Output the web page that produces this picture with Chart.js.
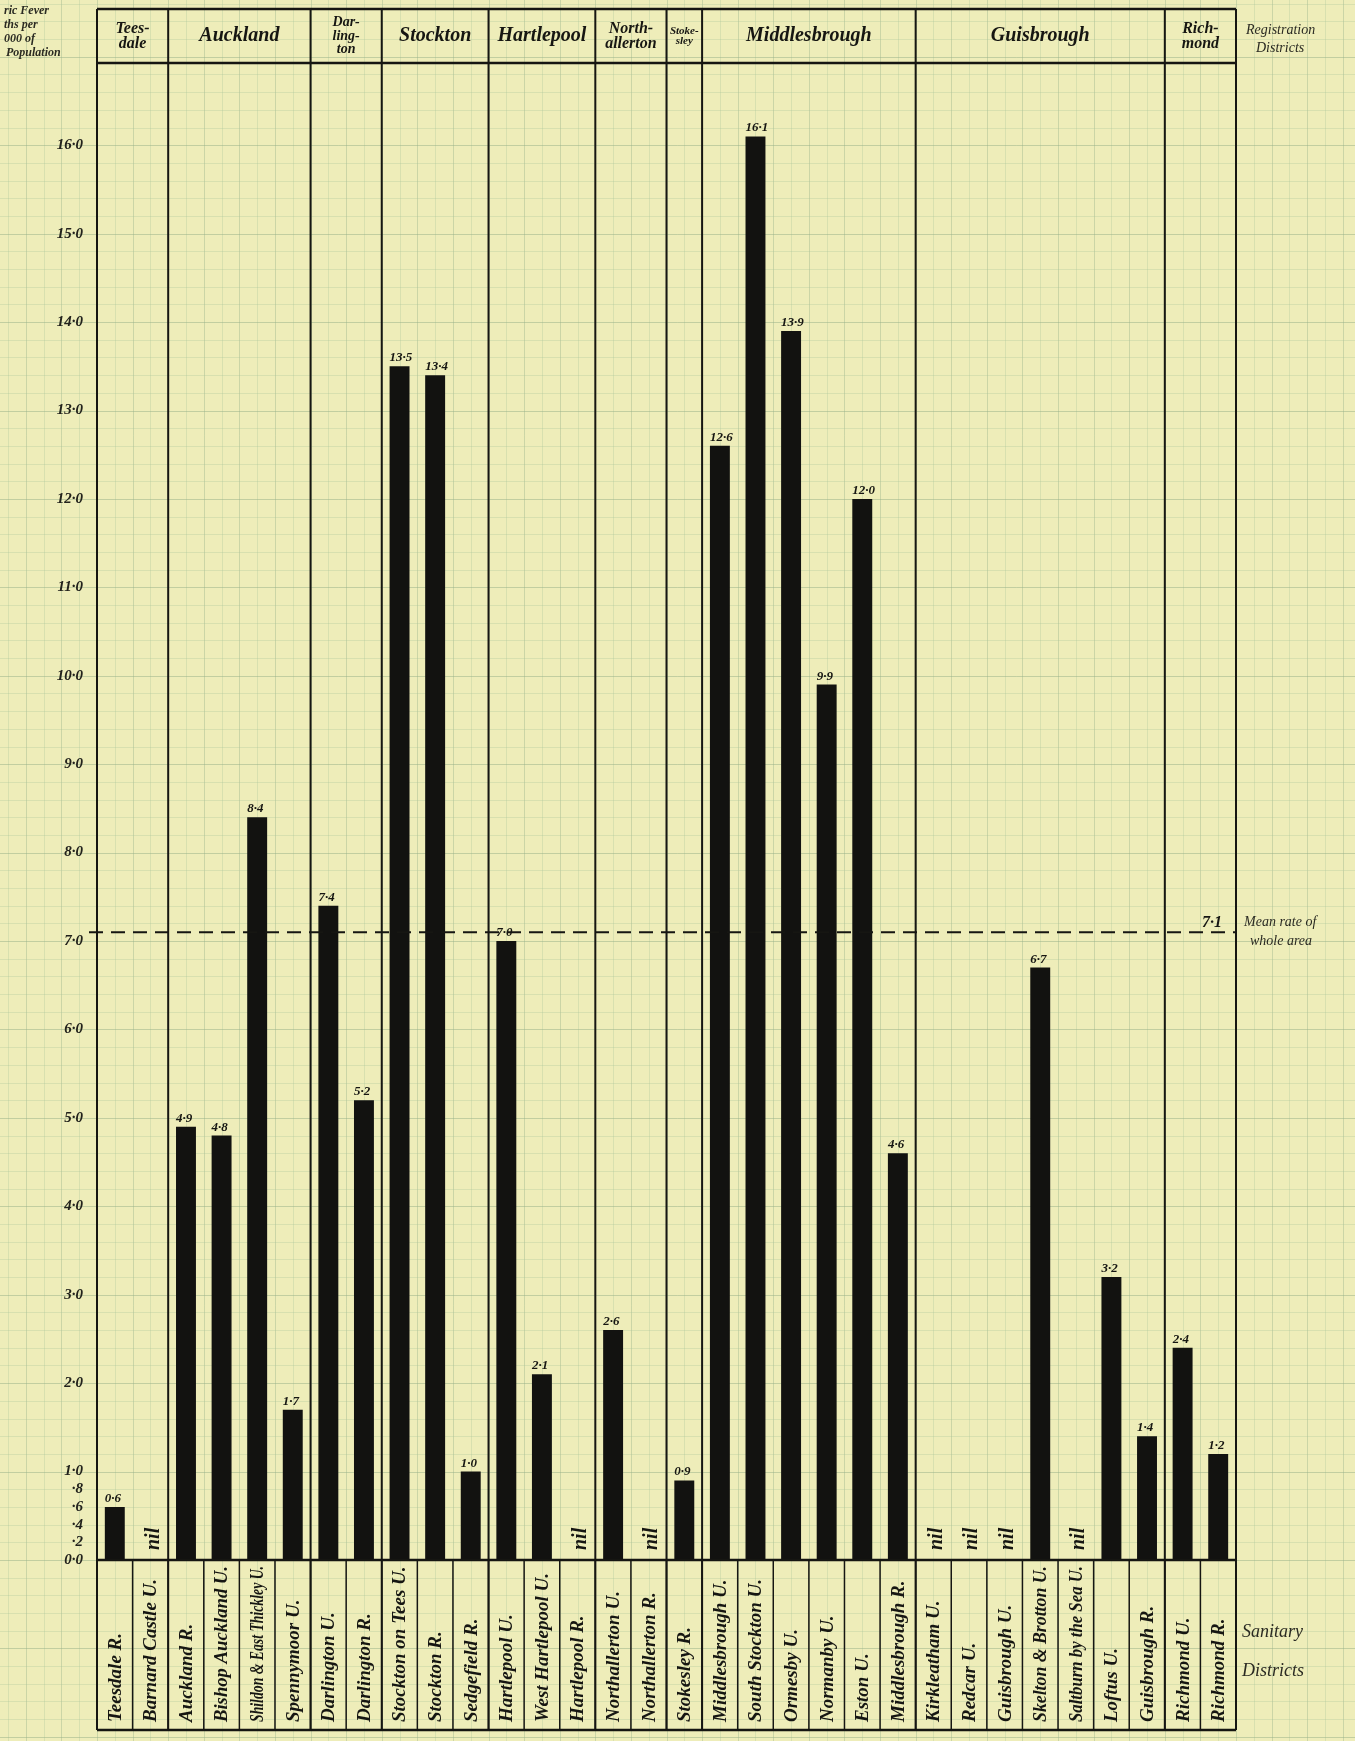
<!DOCTYPE html>
<html>
<head>
<meta charset="utf-8">
<title>Enteric fever deaths per 1000 of population</title>
<script src="https://cdn.jsdelivr.net/npm/chart.js@4.4.1/dist/chart.umd.min.js"></script>
<style>
  html, body { margin: 0; padding: 0; background: #eeedb9; }
  canvas { display: block; }
</style>
</head>
<body>
<canvas id="myChart" width="1355" height="1741"></canvas>
<script>
// sanitary districts, left to right
const districts = [
    'Teesdale R.', 'Barnard Castle U.',
    'Auckland R.', 'Bishop Auckland U.', 'Shildon & East Thickley U.', 'Spennymoor U.',
    'Darlington U.', 'Darlington R.',
    'Stockton on Tees U.', 'Stockton R.', 'Sedgefield R.',
    'Hartlepool U.', 'West Hartlepool U.', 'Hartlepool R.',
    'Northallerton U.', 'Northallerton R.',
    'Stokesley R.',
    'Middlesbrough U.', 'South Stockton U.', 'Ormesby U.', 'Normanby U.', 'Eston U.', 'Middlesbrough R.',
    'Kirkleatham U.', 'Redcar U.', 'Guisbrough U.', 'Skelton & Brotton U.', 'Saltburn by the Sea U.', 'Loftus U.', 'Guisbrough R.',
    'Richmond U.', 'Richmond R.'
];

// deaths per 1000 of population (0 = nil)
const rates = [
    0.6, 0,
    4.9, 4.8, 8.4, 1.7,
    7.4, 5.2,
    13.5, 13.4, 1.0,
    7.0, 2.1, 0,
    2.6, 0,
    0.9,
    12.6, 16.1, 13.9, 9.9, 12.0, 4.6,
    0, 0, 0, 6.7, 0, 3.2, 1.4,
    2.4, 1.2
];

// registration districts and how many sanitary districts each holds
const regNames = [
    ['Tees-', 'dale'], ['Auckland'], ['Dar-', 'ling-', 'ton'], ['Stockton'], ['Hartlepool'],
    ['North-', 'allerton'], ['Stoke-', 'sley'], ['Middlesbrough'], ['Guisbrough'], ['Rich-', 'mond']
];
const regCounts = [2, 4, 2, 3, 3, 2, 1, 6, 7, 2];

const meanRate = 7.1;

const SERIF = '"Liberation Serif", "DejaVu Serif", serif';
const INK = '#161612';

function fmt(v) {
    return v.toFixed(1).replace('.', '\u00b7');
}

function yTick(v) {
    const r = Math.round(v * 10) / 10;
    if (Number.isInteger(r)) return r + '\u00b70';
    if (r < 1 && Math.abs(r * 10 % 2) < 1e-6) return '\u00b7' + Math.round(r * 10);
    return '';
}

// graph paper behind everything
const paper = {
    id: 'paper',
    beforeDraw(chart) {
        const { ctx, width, height, scales: { x, y } } = chart;
        ctx.save();
        ctx.fillStyle = '#eeedb9';
        ctx.fillRect(0, 0, width, height);
        const sx = (x.right - x.left) / (districts.length * 2);
        const sy = y.getPixelForValue(0) - y.getPixelForValue(0.2);
        const y0 = y.getPixelForValue(0);
        ctx.lineWidth = 1;
        for (let i = -Math.ceil(x.left / sx); x.left + i * sx < width; i++) {
            const px = Math.round(x.left + i * sx) + 0.5;
            ctx.strokeStyle = (i % 2 === 0) ? 'rgba(160,185,145,0.45)' : 'rgba(170,195,155,0.32)';
            ctx.beginPath(); ctx.moveTo(px, 0); ctx.lineTo(px, height); ctx.stroke();
        }
        for (let j = -Math.ceil((height - y0) / sy); y0 - j * sy > 0; j++) {
            const py = Math.round(y0 - j * sy) + 0.5;
            ctx.strokeStyle = (j % 5 === 0) ? 'rgba(150,175,135,0.5)' : 'rgba(170,195,155,0.32)';
            ctx.beginPath(); ctx.moveTo(0, py); ctx.lineTo(width, py); ctx.stroke();
        }
        ctx.restore();
    }
};

// ruled table: header row, group lines, name cells, mean line, labels
const table = {
    id: 'table',
    afterDatasetsDraw(chart) {
        const { ctx, chartArea: area, scales: { x, y } } = chart;
        const top = 9, boxBottom = 1730;
        ctx.save();
        ctx.strokeStyle = INK;
        ctx.fillStyle = INK;

        // header and box rules
        ctx.lineWidth = 2.5;
        [top, area.top, area.bottom, boxBottom].forEach(function (py) {
            ctx.beginPath(); ctx.moveTo(area.left, py); ctx.lineTo(area.right, py); ctx.stroke();
        });

        // column dividers in the name box
        ctx.lineWidth = 1.5;
        for (let i = 1; i < districts.length; i++) {
            const px = x.getPixelForValue(i - 0.5);
            ctx.beginPath(); ctx.moveTo(px, area.bottom); ctx.lineTo(px, boxBottom); ctx.stroke();
        }

        // registration district lines and names
        let start = 0;
        ctx.textAlign = 'center';
        ctx.textBaseline = 'middle';
        for (let g = 0; g <= regCounts.length; g++) {
            const px = x.getPixelForValue(start - 0.5);
            ctx.lineWidth = 2;
            ctx.beginPath(); ctx.moveTo(px, top); ctx.lineTo(px, boxBottom); ctx.stroke();
            if (g === regCounts.length) break;
            const right = x.getPixelForValue(start + regCounts[g] - 0.5);
            const lines = regNames[g];
            const size = lines.length === 1 ? 20 : (regCounts[g] === 1 ? 11 : (lines.length === 3 ? 14 : 16));
            ctx.font = 'italic bold ' + size + 'px ' + SERIF;
            const lh = size * 0.95;
            const mid = (top + area.top) / 2;
            lines.forEach(function (t, k) {
                ctx.fillText(t, (px + right) / 2, mid + (k - (lines.length - 1) / 2) * lh);
            });
            start += regCounts[g];
        }

        // mean rate of whole area
        const my = y.getPixelForValue(meanRate);
        ctx.lineWidth = 2;
        ctx.setLineDash([14, 8]);
        ctx.beginPath(); ctx.moveTo(area.left - 8, my); ctx.lineTo(area.right, my); ctx.stroke();
        ctx.setLineDash([]);
        ctx.textAlign = 'right';
        ctx.textBaseline = 'alphabetic';
        ctx.font = 'italic bold 16px ' + SERIF;
        ctx.fillText(fmt(meanRate), area.right - 14, my - 5);

        // value labels and nil
        const meta = chart.getDatasetMeta(0);
        meta.data.forEach(function (bar, i) {
            const v = rates[i];
            if (v > 0) {
                ctx.font = 'italic bold 13px ' + SERIF;
                ctx.textAlign = 'left';
                ctx.textBaseline = 'alphabetic';
                ctx.fillText(fmt(v), bar.x - bar.width / 2, bar.y - 5);
            } else {
                ctx.save();
                ctx.translate(bar.x + 3, area.bottom - 10);
                ctx.rotate(-Math.PI / 2);
                ctx.font = 'italic bold 20px ' + SERIF;
                ctx.textAlign = 'left';
                ctx.textBaseline = 'middle';
                ctx.fillText('nil', 0, 0);
                ctx.restore();
            }
        });

        // sanitary district names, reading upward, squeezed to fit the cell
        ctx.font = 'italic bold 19px ' + SERIF;
        districts.forEach(function (t, i) {
            const cx = x.getPixelForValue(i);
            const w = ctx.measureText(t).width;
            const squeeze = Math.min(1, 156 / w);
            ctx.save();
            ctx.translate(cx + 1, boxBottom - 8);
            ctx.rotate(-Math.PI / 2);
            ctx.scale(squeeze, 1);
            ctx.textAlign = 'left';
            ctx.textBaseline = 'middle';
            ctx.fillText(t, 0, 0);
            ctx.restore();
        });

        // side notes
        ctx.textAlign = 'left';
        ctx.textBaseline = 'middle';
        ctx.fillStyle = '#2a2a22';
        ctx.font = 'italic 14px ' + SERIF;
        ctx.fillText('Registration', 1246, 30);
        ctx.fillText('Districts', 1256, 48);
        ctx.fillText('Mean rate of', 1244, 922);
        ctx.fillText('whole area', 1250, 941);
        ctx.font = 'italic 18px ' + SERIF;
        ctx.fillText('Sanitary', 1242, 1632);
        ctx.fillText('Districts', 1242, 1671);
        ctx.font = 'italic bold 12px ' + SERIF;
        ctx.fillText('ric Fever', 4, 11);
        ctx.fillText('ths per', 4, 25);
        ctx.fillText('000 of', 4, 39);
        ctx.fillText('Population', 6, 53);
        ctx.restore();
    }
};

const data = {
    labels: districts,
    datasets: [{
        label: 'Deaths per 1000',
        data: rates,
        backgroundColor: '#121210',
        borderWidth: 0,
        barPercentage: 0.56,
        categoryPercentage: 1.0
    }]
};

const config = {
    type: 'bar',
    data: data,
    options: {
        responsive: false,
        animation: false,
        devicePixelRatio: 1,
        layout: {
            padding: { left: 0, right: 119, top: 63, bottom: 181 }
        },
        scales: {
            x: {
                ticks: { display: false },
                grid: { display: false },
                border: { display: false },
                afterFit: function (scale) { scale.height = 0; }
            },
            y: {
                min: 0,
                max: 16.93,
                ticks: {
                    stepSize: 0.2,
                    autoSkip: false,
                    padding: 6,
                    color: '#22221c',
                    font: { family: SERIF, size: 15, style: 'italic', weight: 'bold' },
                    callback: function (v) { return yTick(v); }
                },
                grid: { display: false },
                border: { display: false },
                afterFit: function (scale) { scale.width = 97; }
            }
        },
        plugins: {
            legend: { display: false },
            tooltip: { enabled: false }
        }
    },
    plugins: [paper, table]
};

new Chart(document.getElementById('myChart'), config);
</script>
</body>
</html>
